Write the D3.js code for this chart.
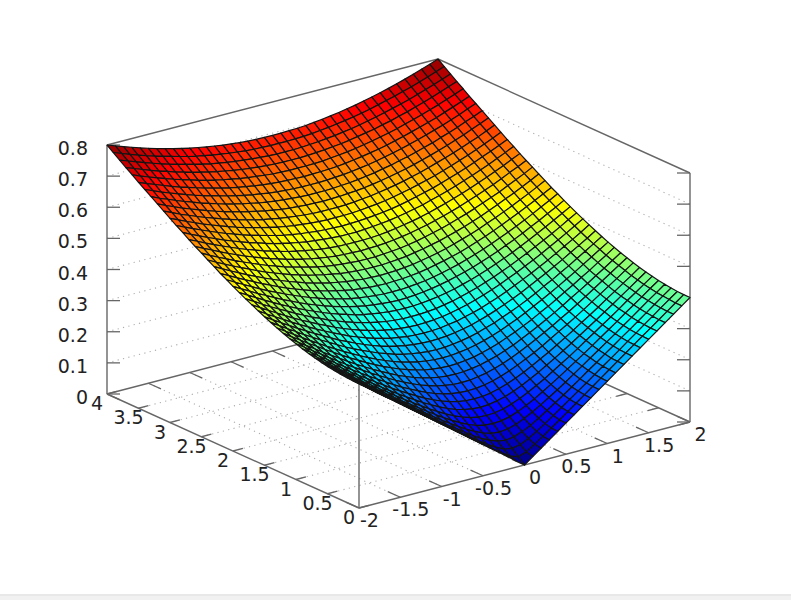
<!DOCTYPE html>
<html><head><meta charset="utf-8"><script src="https://cdn.jsdelivr.net/npm/d3@7"></script>
<style>html,body{margin:0;padding:0;background:#fff}svg{display:block}</style></head><body>
<script>
const xTicks=[-2,-1.5,-1,-0.5,0,0.5,1,1.5,2];
const xLabels=["-2","-1.5","-1","-0.5","0","0.5","1","1.5","2"];
const yTicks=[0,0.5,1,1.5,2,2.5,3,3.5,4];
const yLabels=["0","0.5","1","1.5","2","2.5","3","3.5","4"];
const zTicks=[0,0.1,0.2,0.3,0.4,0.5,0.6,0.7,0.8];
const zLabels=["0","0.1","0.2","0.3","0.4","0.5","0.6","0.7","0.8"];
const xMesh=[-2,-1.9,-1.8,-1.7,-1.6,-1.5,-1.4,-1.3,-1.2,-1.1,-1,-0.9,-0.8,-0.7,-0.6,-0.5,-0.4,-0.3,-0.2,-0.1,0,0.1,0.2,0.3,0.4,0.5,0.6,0.7,0.8,0.9,1,1.1,1.2,1.3,1.4,1.5,1.6,1.7,1.8,1.9,2];
const yMesh=[0,0.1,0.2,0.3,0.4,0.5,0.6,0.7,0.8,0.9,1,1.1,1.2,1.3,1.4,1.5,1.6,1.7,1.8,1.9,2,2.1,2.2,2.3,2.4,2.5,2.6,2.7,2.8,2.9,3,3.1,3.2,3.3,3.4,3.5,3.6,3.7,3.8,3.9,4];
// Surface height in thousandths, one row per y; columns are |x| = 0, 0.1 ... 2 (surface is mirror-symmetric in x)
const zRows=[
[0,20,40,60,80,100,120,140,160,180,200,220,240,260,280,300,320,340,360,380,400],
[17,26,44,62,82,101,121,141,161,181,201,221,241,261,281,301,320,340,360,380,400],
[35,40,53,69,87,106,125,144,164,183,203,223,242,262,282,302,322,342,362,382,401],
[52,56,66,79,95,113,131,149,168,187,207,226,246,265,285,304,324,344,364,384,403],
[69,72,80,92,106,122,139,156,174,193,212,231,250,269,288,308,327,347,367,386,406],
[87,89,95,105,118,132,148,165,182,200,218,236,255,274,293,312,332,351,370,390,409],
[104,106,111,120,131,144,159,174,191,208,225,243,262,280,299,317,336,356,375,394,413],
[121,123,128,135,145,157,171,185,201,217,234,251,269,287,305,324,342,361,380,399,418],
[139,140,144,151,160,171,183,197,212,227,243,260,277,295,312,330,349,367,386,404,423],
[156,157,161,167,175,185,197,210,223,238,254,270,286,303,320,338,356,374,392,411,429],
[173,174,178,183,191,200,211,223,236,250,265,280,296,312,329,346,364,382,400,418,436],
[191,192,195,200,207,215,225,236,249,262,276,291,306,322,339,355,372,390,407,425,443],
[208,209,212,216,223,231,240,251,262,275,288,303,317,333,349,365,382,398,416,433,451],
[225,226,229,233,239,246,255,265,276,288,301,315,329,344,359,375,391,408,425,442,459],
[242,243,246,250,255,262,271,280,291,302,314,327,341,356,370,386,401,418,434,451,468],
[260,261,263,267,272,278,286,295,305,316,328,340,354,368,382,397,412,428,444,460,477],
[277,278,280,284,288,295,302,310,320,330,342,354,367,380,394,408,423,439,454,470,487],
[294,295,297,300,305,311,318,326,335,345,356,368,380,393,406,420,435,450,465,481,497],
[312,312,314,317,322,327,334,342,350,360,370,382,393,406,419,433,447,461,476,492,507],
[329,330,332,335,339,344,350,358,366,375,385,396,407,419,432,445,459,473,488,503,518],
[346,347,349,352,356,361,367,374,382,390,400,410,421,433,445,458,472,485,500,514,529],
[364,364,366,369,372,377,383,390,397,406,415,425,436,447,459,471,484,498,512,526,541],
[381,382,383,386,389,394,400,406,413,421,430,440,450,461,473,485,498,511,524,538,552],
[398,399,400,403,406,411,416,422,429,437,446,455,465,476,487,499,511,524,537,551,565],
[416,416,418,420,423,428,433,439,445,453,461,470,480,490,501,513,525,537,550,563,577],
[433,433,435,437,440,444,449,455,462,469,477,486,495,505,516,527,538,551,563,576,590],
[450,451,452,454,457,461,466,472,478,485,493,501,510,520,530,541,552,564,577,589,602],
[468,468,469,471,474,478,483,488,494,501,509,517,526,535,545,556,567,578,590,603,615],
[485,485,487,489,492,495,500,505,511,517,525,533,541,550,560,570,581,592,604,616,629],
[502,503,504,506,509,512,516,521,527,534,541,548,557,566,575,585,596,607,618,630,642],
[520,520,521,523,526,529,533,538,544,550,557,564,572,581,590,600,610,621,632,644,656],
[537,537,538,540,543,546,550,555,560,566,573,580,588,597,606,615,625,636,646,658,670],
[554,555,556,558,560,563,567,572,577,583,589,596,604,612,621,630,640,650,661,672,684],
[572,572,573,575,577,580,584,588,594,599,606,612,620,628,636,646,655,665,676,686,698],
[589,589,590,592,594,597,601,605,610,616,622,629,636,644,652,661,670,680,690,701,712],
[606,607,608,609,611,614,618,622,627,632,638,645,652,660,668,676,685,695,705,715,726],
[624,624,625,626,629,632,635,639,644,649,655,661,668,676,684,692,701,710,720,730,741],
[641,641,642,644,646,649,652,656,661,666,671,678,684,692,699,708,716,725,735,745,755],
[658,658,659,661,663,666,669,673,677,682,688,694,701,708,715,723,732,741,750,760,770],
[676,676,677,678,680,683,686,690,694,699,704,710,717,724,731,739,747,756,765,775,785],
[693,693,694,695,697,700,703,707,711,716,721,727,733,740,747,755,763,772,781,790,800]
];
const W=791,H=600;
const svg=d3.select("body").append("svg").attr("width",W).attr("height",H);
svg.append("rect").attr("width",W).attr("height",H).attr("fill","#fff");
svg.append("rect").attr("y",594).attr("width",W).attr("height",2).attr("fill","#e8e8e8");
svg.append("rect").attr("y",596).attr("width",W).attr("height",4).attr("fill","#f1f1f1");
const xPx=d3.scaleLinear([-2,2],[0,331]),xPy=d3.scaleLinear([-2,2],[0,-86]);
const yPx=d3.scaleLinear([0,4],[0,-252]),yPy=d3.scaleLinear([0,4],[0,-114]);
const zPy=d3.scaleLinear([0,0.8],[0,-249]);
const P=(x,y,z)=>[359+xPx(x)+yPx(y),508+xPy(x)+yPy(y)+zPy(z)];
const line=(g,a,b,c,w,d)=>g.append("path").attr("d",d3.line()([a,b])).attr("stroke",c).attr("stroke-width",w).attr("fill","none").attr("stroke-dasharray",d||null);
const g=svg.append("g");
const DOT="#adadad",FR="#666",xmin=xTicks[0],xmax=xTicks[8],ymax=yTicks[8],ztop=zTicks[8];
xTicks.slice(1,-1).forEach(x=>line(g,P(x,0,0),P(x,ymax,0),DOT,1.1,"1.2 4.3"));
yTicks.slice(1,-1).forEach(y=>line(g,P(xmin,y,0),P(xmax,y,0),DOT,1.1,"1.2 4.3"));
zTicks.slice(1,-1).forEach(z=>{line(g,P(xmin,ymax,z),P(xmax,ymax,z),DOT,1.1,"1.2 4.3");line(g,P(xmax,ymax,z),P(xmax,0,z),DOT,1.1,"1.2 4.3");});
[[[xmin,0,0],[xmax,0,0]],[[xmin,0,0],[xmin,ymax,0]],[[xmin,ymax,0],[xmax,ymax,0]],[[xmax,ymax,0],[xmax,0,0]],[[xmin,ymax,0],[xmin,ymax,ztop]],[[xmax,0,0],[xmax,0,ztop]],[[xmin,0,0],[xmin,0,ztop]],[[xmin,ymax,ztop],[xmax,ymax,ztop]],[[xmax,ymax,ztop],[xmax,0,ztop]]].forEach(s=>line(g,P(...s[0]),P(...s[1]),FR,1.4));
xTicks.forEach(x=>{line(g,P(x,0,0),P(x,.2,0),FR,1.3);line(g,P(x,ymax,0),P(x,3.8,0),FR,1.3);});
yTicks.forEach(y=>{line(g,P(xmin,y,0),P(-1.88,y,0),FR,1.3);line(g,P(xmax,y,0),P(1.87,y,0),FR,1.3);});
zTicks.forEach(z=>{const a=P(xmin,ymax,z),b=P(xmax,0,z);line(g,a,[a[0]+13,a[1]],FR,1.3);line(g,b,[b[0]-13,b[1]],FR,1.3);});
const jet=d3.scaleLinear([0,.1,.3,.5,.7,.8],["#000090","#0000ff","#00ffff","#ffff00","#ff0000","#800000"]);
const zAt=(i,j)=>zRows[j][Math.abs(i-20)]/1000;
const s=svg.append("g");
const cells=[];
for(let i=39;i>=0;i--)for(let j=39;j>=0;j--)cells.push([i,j]);
s.selectAll("path").data(cells).join("path")
 .attr("d",([i,j])=>d3.line()([[i,j],[i+1,j],[i+1,j+1],[i,j+1]].map(([a,b])=>P(xMesh[a],yMesh[b],zAt(a,b))))+"Z")
 .attr("fill",([i,j])=>jet(d3.min([[i,j],[i+1,j],[i+1,j+1],[i,j+1]],([a,b])=>zAt(a,b))))
 .attr("stroke","#141414").attr("stroke-width",1.2).attr("stroke-linejoin","round");
const T=(t,x,y,a)=>svg.append("text").attr("x",x).attr("y",y).attr("text-anchor",a).attr("dominant-baseline","central").attr("font-family","DejaVu Sans").attr("font-size",19).attr("fill","#222").text(t);
xTicks.forEach((x,i)=>{const p=P(x,0,0);T(xLabels[i],p[0]+10.5,p[1]+12,"middle");});
yTicks.forEach((y,i)=>{const p=P(xmin,y,0);T(yLabels[i],p[0]-10,p[1]+9,"middle");});
zTicks.forEach((z,i)=>{const p=P(xmin,ymax,z);T(zLabels[i],88,p[1]+3,"end");});
</script></body></html>
